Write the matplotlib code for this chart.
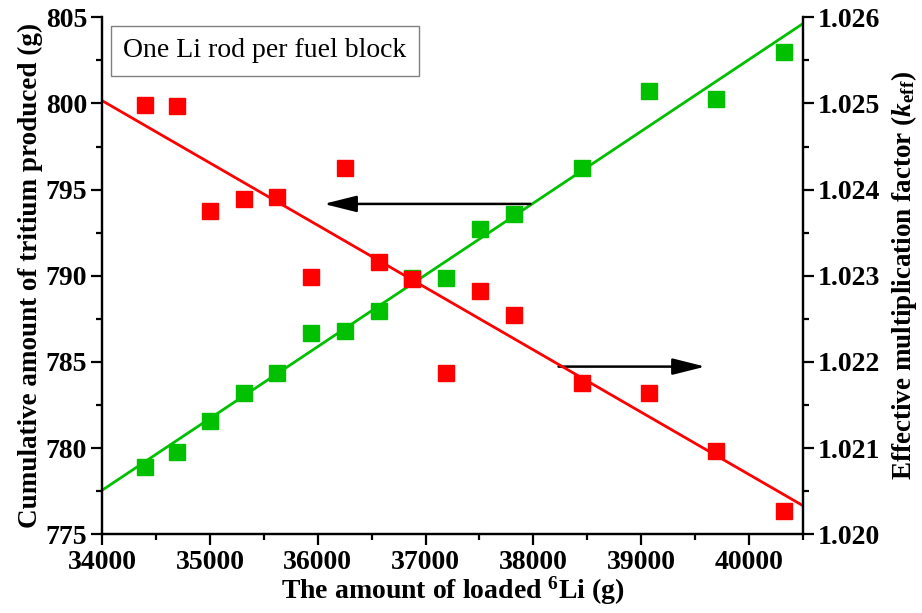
import numpy as np
import matplotlib.pyplot as plt
from matplotlib.ticker import MultipleLocator

plt.rcParams['font.family'] = ['Liberation Serif', 'DejaVu Serif']
plt.rcParams['mathtext.fontset'] = 'custom'
plt.rcParams['mathtext.rm'] = 'Liberation Serif:bold'
plt.rcParams['mathtext.it'] = 'Liberation Serif:bold:italic'
plt.rcParams['mathtext.bf'] = 'Liberation Serif:bold'

# loaded 6Li (g)
li6 = [34400, 34690, 35000, 35313, 35624, 35940, 36250, 36564,
       36874, 37191, 37507, 37821, 38448, 39075, 39698, 40329]
# cumulative tritium (g), left axis
tritium = [778.92, 779.78, 781.59, 783.22, 784.38, 786.67, 786.82, 787.96,
           789.86, 789.86, 792.74, 793.57, 796.24, 800.73, 800.25, 802.97]
# keff, right axis
keff = [1.02498, 1.02497, 1.02375, 1.02389, 1.02392, 1.02299, 1.02425, 1.02316,
        1.02296, 1.02187, 1.02282, 1.02254, 1.02175, 1.02164, 1.02097, 1.02027]

green = '#00C000'
red = '#FF0000'

fig = plt.figure(figsize=(9.22, 6.13), dpi=100)
ax = fig.add_axes([0.111, 0.1284, 0.7596, 0.8434])
ax2 = ax.twinx()

xl = np.array([34000, 40500])

# tritium (green) on the left axis
p = np.polyfit(li6, tritium, 1)
ax.plot(xl, np.polyval(p, xl), color=green, lw=2, zorder=2)
ax.plot(li6, tritium, 's', color=green, ms=11, zorder=3)

# keff (red) on the right axis
q = np.polyfit(li6, keff, 1)
ax2.plot(xl, np.polyval(q, xl), color=red, lw=2, zorder=2)
ax2.plot(li6, keff, 's', color=red, ms=11, zorder=3)

ax.set_xlim(34000, 40500)
ax.set_ylim(775, 805)
ax2.set_ylim(1.020, 1.026)

ax.xaxis.set_major_locator(MultipleLocator(1000))
ax.xaxis.set_minor_locator(MultipleLocator(500))
ax.yaxis.set_major_locator(MultipleLocator(5))
ax.yaxis.set_minor_locator(MultipleLocator(2.5))
ax2.yaxis.set_major_locator(MultipleLocator(0.001))
ax2.yaxis.set_minor_locator(MultipleLocator(0.0005))
ax2.yaxis.set_major_formatter(plt.FormatStrFormatter('%.3f'))

for a in (ax, ax2):
    a.spines['top'].set_visible(False)
    for s in a.spines.values():
        s.set_linewidth(1.6)
    a.tick_params(which='major', direction='out', length=8, width=1.6, labelsize=20, pad=3)
    a.tick_params(which='minor', direction='out', length=4.5, width=1.6)
    for lab in a.get_xticklabels() + a.get_yticklabels():
        lab.set_fontweight('bold')

ax.set_xlabel(r'The amount of loaded $^{6}$Li (g)', fontsize=20, fontweight='bold', labelpad=0)
ax.set_ylabel('Cumulative amount of tritium produced (g)', fontsize=19.5, fontweight='bold', labelpad=2)
ax2.set_ylabel(r'Effective multiplication factor ($k_{\mathrm{eff}}$)', fontsize=19.5,
               fontweight='bold', labelpad=6)

# arrows
arr = dict(arrowstyle='-|>,head_length=0.8,head_width=0.2', color='black', lw=1.8,
           mutation_scale=25, shrinkA=0, shrinkB=0)
ax.annotate('', xy=(36055, 794.17), xytext=(37973, 794.17), arrowprops=arr)
ax.annotate('', xy=(39596, 784.73), xytext=(38234, 784.73), arrowprops=arr)

ax.text(0.03, 0.935, 'One Li rod per fuel block', transform=ax.transAxes, fontsize=20,
        va='center', ha='left',
        bbox=dict(boxstyle='square,pad=0.45', fc='white', ec='#808080', lw=1))

fig.savefig('out.png', dpi=100)
